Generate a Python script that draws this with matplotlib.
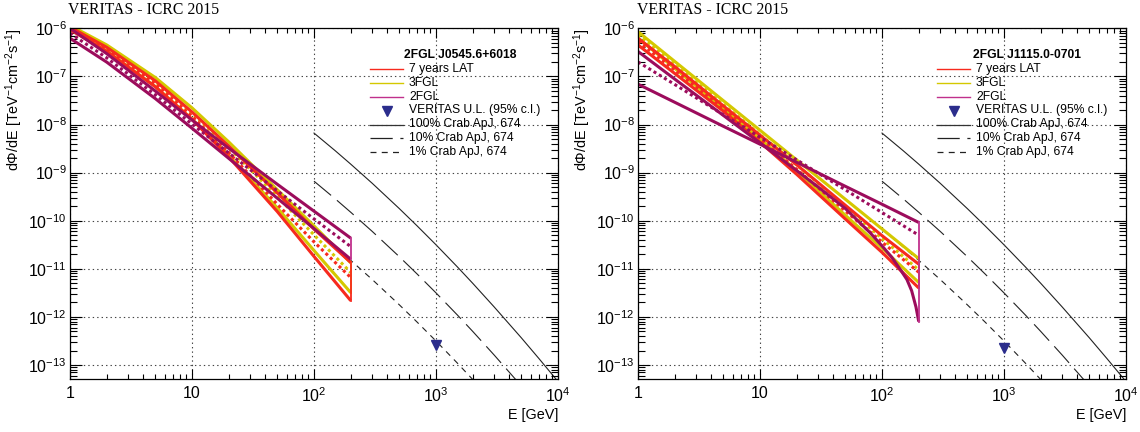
import matplotlib
matplotlib.use("Agg")
import matplotlib.pyplot as plt
from matplotlib.lines import Line2D
from matplotlib.ticker import FixedLocator, FixedFormatter, LogLocator, NullFormatter

plt.rcParams['font.family'] = ['Liberation Sans', 'DejaVu Sans']
plt.rcParams['mathtext.fontset'] = 'custom'
plt.rcParams['mathtext.rm'] = 'Liberation Sans'
plt.rcParams['mathtext.it'] = 'Liberation Sans:italic'
plt.rcParams['mathtext.bf'] = 'Liberation Sans:bold'
plt.rcParams['lines.scale_dashes'] = False

# ---- data ----
energy = [1, 2, 5, 10, 20, 50, 100, 200]   # GeV, bowtie sample points

# 2FGL J0545.6+6018 (left panel)
j0545_lat7_hi = [1.06e-6, 4.02e-7, 8.1e-8, 1.82e-8, 3.57e-9, 3.78e-10, 6.7e-11, 1.36e-11]
j0545_lat7_mid = [1.0e-6, 3.66e-7, 7.0e-8, 1.48e-8, 2.61e-9, 2.2e-10, 3.63e-11, 6.6e-12]
j0545_lat7_lo = [9.4e-7, 3.32e-7, 6.1e-8, 1.28e-8, 2.11e-9, 1.55e-10, 1.81e-11, 2.18e-12]
j0545_3fgl_hi = [1.15e-6, 4.51e-7, 9.5e-8, 2.22e-8, 4.35e-9, 4.4e-10, 7.8e-11, 1.33e-11]
j0545_3fgl_mid = [1.05e-6, 3.84e-7, 7.73e-8, 1.74e-8, 3.3e-9, 3.19e-10, 5.07e-11, 8.4e-12]
j0545_3fgl_lo = [9.5e-7, 3.36e-7, 6.17e-8, 1.3e-8, 2.3e-9, 1.85e-10, 2.4e-11, 3.2e-12]
j0545_2fgl_hi = [1.0e-6, 2.97e-7, 4.97e-8, 1.24e-8, 3.21e-9, 5.73e-10, 1.58e-10, 4.35e-11]
j0545_2fgl_mid = [7.9e-7, 2.43e-7, 4.15e-8, 1.02e-8, 2.56e-9, 4.2e-10, 1.09e-10, 2.9e-11]
j0545_2fgl_lo = [6.2e-7, 1.98e-7, 3.46e-8, 8.36e-9, 1.98e-9, 2.94e-10, 6.87e-11, 1.58e-11]
j0545_ul_energy = 1000
j0545_ul_flux = 2.6e-13

# 2FGL J1115.0-0701 (right panel)
j1115_lat7_hi = [6.2e-7, 1.6e-7, 2.45e-8, 6.0e-9, 1.45e-9, 2.1e-10, 4.9e-11, 1.25e-11]
j1115_lat7_mid = [5.3e-7, 1.36e-7, 2.15e-8, 5.1e-9, 1.17e-9, 1.6e-10, 3.6e-11, 8.5e-12]
j1115_lat7_lo = [4.5e-7, 1.15e-7, 1.9e-8, 4.3e-9, 9.2e-10, 1.09e-10, 2.2e-11, 4.0e-12]
j1115_3fgl_hi = [8.5e-7, 2.05e-7, 3.14e-8, 7.6e-9, 1.83e-9, 2.8e-10, 6.75e-11, 1.63e-11]
j1115_3fgl_mid = [7.3e-7, 1.75e-7, 2.62e-8, 6.2e-9, 1.45e-9, 1.95e-10, 4.3e-11, 9.5e-12]
j1115_3fgl_lo = [6.3e-7, 1.47e-7, 2.15e-8, 5.0e-9, 1.1e-9, 1.3e-10, 2.7e-11, 5.2e-12]
# 2FGL bowtie: hard branch (low at 1 GeV, high at 200 GeV) and soft branch that plunges
j1115_2fgl_hard = [6.9e-8, 2.9e-8, 9.2e-9, 3.9e-9, 1.64e-9, 5.2e-10, 2.2e-10, 9.2e-11]
j1115_2fgl_mid = [2.0e-7, 6.8e-8, 1.6e-8, 5.45e-9, 1.84e-9, 4.4e-10, 1.48e-10, 5.0e-11]
j1115_soft_energy = [1, 2, 5, 10, 20, 30, 50, 80, 100, 120, 140, 160, 175, 190, 200]
j1115_2fgl_soft = [3.3e-7, 8.8e-8, 1.55e-8, 4.15e-9, 1.1e-9, 5.0e-10, 1.8e-10, 5.6e-11, 3.0e-11,
                   1.75e-11, 1.0e-11, 6.0e-12, 3.5e-12, 1.6e-12, 8.0e-13]
j1115_ul_energy = 1000
j1115_ul_flux = 2.3e-13

# Crab spectrum (ApJ 674), 100 %, 10 %, 1 %
crab_energy = [100, 150, 200, 300, 500, 700, 1000, 1500, 2000, 3000, 5000, 7000, 10000]
crab_100 = [6.64e-9, 2.82e-9, 1.50e-9, 6.0e-10, 1.79e-10, 7.81e-11, 3.16e-11, 1.09e-11,
            5.0e-12, 1.61e-12, 3.69e-13, 1.35e-13, 4.54e-14]
crab_10 = [6.64e-10, 2.82e-10, 1.50e-10, 6.0e-11, 1.79e-11, 7.81e-12, 3.16e-12, 1.09e-12,
           5.0e-13, 1.61e-13, 3.69e-14, 1.35e-14, 4.54e-15]
crab_1 = [6.64e-11, 2.82e-11, 1.50e-11, 6.0e-12, 1.79e-12, 7.81e-13, 3.16e-13, 1.09e-13,
          5.0e-14, 1.61e-14, 3.69e-15, 1.35e-15, 4.54e-16]

x_ticks = [1, 10, 100, 1000, 10000]
x_ticklabels = ['1', '10', '$10^{2}$', '$10^{3}$', '$10^{4}$']
y_ticks = [1e-13, 1e-12, 1e-11, 1e-10, 1e-9, 1e-8, 1e-7, 1e-6]
y_ticklabels = ['$10^{-13}$', '$10^{-12}$', '$10^{-11}$', '$10^{-10}$',
                '$10^{-9}$', '$10^{-8}$', '$10^{-7}$', '$10^{-6}$']
legend_labels = ['7 years LAT', '3FGL', '2FGL', 'VERITAS U.L. (95% c.l.)',
                 '100% Crab ApJ, 674', '10% Crab ApJ, 674', '1% Crab ApJ, 674']

RED = '#f72a1e'
YELLOW = '#d4c800'
PURPLE = '#9c0c5c'
PURPLE_EDGE = '#c0308c'
UL_BLUE = '#2b2d8c'
W, H = 1140, 432


def fpx(x, y):
    return x / W, 1 - y / H


def draw_bowtie(ax, e_hi, hi, e_lo, lo, e_mid, mid, color, edge_color=None):
    ax.plot(e_hi, hi, color=color, lw=2.2, solid_capstyle='butt')
    ax.plot(e_lo, lo, color=color, lw=2.2, solid_capstyle='butt')
    ax.plot(e_mid, mid, color=color, lw=2.2, linestyle=(0, (2.2, 2.2)), dash_capstyle='butt')
    ax.plot([e_hi[-1], e_lo[-1]], [hi[-1], lo[-1]], color=edge_color or color, lw=1.3)


def setup_axes(ax):
    ax.set_xscale('log')
    ax.set_yscale('log')
    ax.set_xlim(1, 1e4)
    ax.set_ylim(5.05e-14, 1e-6)
    ax.xaxis.set_major_locator(FixedLocator(x_ticks))
    ax.xaxis.set_major_formatter(FixedFormatter(x_ticklabels))
    ax.xaxis.set_minor_locator(LogLocator(base=10, subs=range(2, 10), numticks=20))
    ax.xaxis.set_minor_formatter(NullFormatter())
    ax.yaxis.set_major_locator(FixedLocator(y_ticks))
    ax.yaxis.set_major_formatter(FixedFormatter(y_ticklabels))
    ax.yaxis.set_minor_locator(LogLocator(base=10, subs=range(2, 10), numticks=20))
    ax.yaxis.set_minor_formatter(NullFormatter())
    ax.tick_params(which='both', direction='in', top=True, right=True, width=0.8, labelsize=11.5)
    ax.tick_params(axis='x', which='major', length=7, pad=5)
    ax.tick_params(axis='x', which='minor', length=3.6)
    ax.tick_params(axis='y', which='major', length=8.5, pad=2.3)
    ax.tick_params(axis='y', which='minor', length=5)
    ax.grid(True, which='major', color='#444444', lw=0.8, linestyle=(0, (1, 2.2)))
    for s in ax.spines.values():
        s.set_linewidth(0.9)
    ax.set_xlabel('E [GeV]', fontsize=10.4)
    ax.xaxis.set_label_coords(1.0, -0.102)
    ax.xaxis.label.set_ha('right')
    ax.xaxis.label.set_va('center')
    ax.set_ylabel(r'd$\Phi$/dE [TeV$^{-1}$cm$^{-2}$s$^{-1}$]', fontsize=10.4, loc='top')
    ax.yaxis.set_label_coords(-0.093, 1.0)


def draw_crab(ax):
    ax.plot(crab_energy, crab_100, color='#222222', lw=0.8, zorder=1.5)
    ax.plot(crab_energy, crab_10, color='#222222', lw=0.8, linestyle=(0, (16, 5.5)), zorder=1.5)
    ax.plot(crab_energy, crab_1, color='#222222', lw=0.8, linestyle=(0, (4.3, 3.8)), zorder=1.5)


def draw_legend(x0, title_x, title):
    rows = [69, 83, 97, 110.5, 124.5, 138, 152]
    fig.text(*fpx(title_x, 55), title, fontsize=8.7, fontweight='bold', va='center', ha='left')
    styles = [dict(color=RED, lw=1.0), dict(color=YELLOW, lw=1.0), dict(color=PURPLE_EDGE, lw=1.0),
              None,
              dict(color='#333333', lw=0.9), dict(color='#222222', lw=0.9, linestyle=(0, (16, 5.5))),
              dict(color='#222222', lw=0.9, linestyle=(0, (4.3, 3.8)))]
    for y, lab, st in zip(rows, legend_labels, styles):
        if st is None:
            fig.add_artist(Line2D([(x0 + 17) / W], [1 - y / H], marker='v', color=UL_BLUE,
                                  markersize=6.5, linestyle='none', transform=fig.transFigure))
        else:
            fig.add_artist(Line2D([x0 / W, (x0 + 33) / W], [1 - y / H, 1 - y / H],
                                  transform=fig.transFigure, **st))
        fig.text(*fpx(x0 + 39, y), lab, fontsize=8.7, va='center', ha='left')


fig = plt.figure(figsize=(W / 100, H / 100), dpi=100)

ax1 = fig.add_axes([70 / W, 1 - 379.3 / H, 488 / W, 351 / H])
setup_axes(ax1)
draw_crab(ax1)
draw_bowtie(ax1, energy, j0545_3fgl_hi, energy, j0545_3fgl_lo, energy, j0545_3fgl_mid, YELLOW)
draw_bowtie(ax1, energy, j0545_lat7_hi, energy, j0545_lat7_lo, energy, j0545_lat7_mid, RED)
draw_bowtie(ax1, energy, j0545_2fgl_hi, energy, j0545_2fgl_lo, energy, j0545_2fgl_mid, PURPLE, PURPLE_EDGE)
ax1.plot([j0545_ul_energy], [j0545_ul_flux], marker='v', color=UL_BLUE, markersize=6.5, linestyle='none')

ax2 = fig.add_axes([638 / W, 1 - 379.3 / H, 488 / W, 351 / H])
setup_axes(ax2)
draw_crab(ax2)
draw_bowtie(ax2, energy, j1115_3fgl_hi, energy, j1115_3fgl_lo, energy, j1115_3fgl_mid, YELLOW)
draw_bowtie(ax2, energy, j1115_lat7_hi, energy, j1115_lat7_lo, energy, j1115_lat7_mid, RED)
draw_bowtie(ax2, energy, j1115_2fgl_hard, j1115_soft_energy, j1115_2fgl_soft, energy, j1115_2fgl_mid,
            PURPLE, PURPLE_EDGE)
ax2.plot([j1115_ul_energy], [j1115_ul_flux], marker='v', color=UL_BLUE, markersize=6.5, linestyle='none')

for xt in (68, 637):
    fig.text(*fpx(xt, 10), 'VERITAS - ICRC 2015', fontsize=11.3, va='center', ha='left',
             family=['Liberation Serif', 'DejaVu Serif'])

draw_legend(370, 404, '2FGL J0545.6+6018')
draw_legend(937, 973, '2FGL J1115.0-0701')

fig.savefig('out.png', dpi=100)
